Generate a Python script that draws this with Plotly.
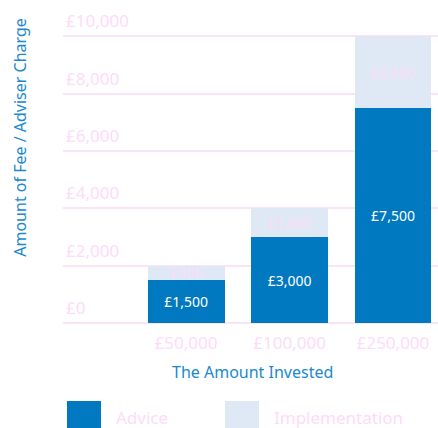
import plotly.graph_objects as go

categories = ["£50,000", "£100,000", "£250,000"]
advice = [1500, 3000, 7500]
implementation = [500, 1000, 2500]
y_ticks = [0, 2000, 4000, 6000, 8000, 10000]
y_tick_labels = ["£0", "£2,000", "£4,000", "£6,000", "£8,000", "£10,000"]

BLUE = "#0079c1"
LIGHT = "#dfe8f5"
PINK = "#fcdcf8"
GRID = "#fbe3f8"
TITLE = "#2088cf"
FONT = "Noto Sans"

def money(v):
    return "£{:,}".format(v)

fig = go.Figure()
fig.add_trace(go.Bar(
    x=categories, y=advice, name="Advice", marker=dict(color=BLUE, line=dict(width=0)),
    text=[money(v) for v in advice], textposition="inside", insidetextanchor="middle",
    constraintext="none", cliponaxis=False,
    textfont=dict(color="white", size=14, family=FONT), showlegend=False,
))
fig.add_trace(go.Bar(
    x=categories, y=implementation, name="Implementation", marker=dict(color=LIGHT, line=dict(width=0)),
    text=[money(v) for v in implementation], textposition="inside", insidetextanchor="middle",
    constraintext="none", cliponaxis=False,
    textfont=dict(color=PINK, size=14, family=FONT), showlegend=False,
))

W, H = 438, 428
Y_MAX = 11200
ZERO_PX, TOP_PX = 323, 36           # pixel rows of 0 and 10,000
scale = (ZERO_PX - TOP_PX) / 10000
L, R = 63, 0
B = H - ZERO_PX
T = ZERO_PX - Y_MAX * scale
pw, ph = W - L - R, H - T - B

def px(x):
    return (x - L) / pw

def py(y):
    return (H - B - y) / ph

fig.update_layout(
    width=W, height=H, barmode="stack", bargap=0.256,
    margin=dict(l=L, r=R, t=T, b=B, pad=0),
    paper_bgcolor="white", plot_bgcolor="white",
    font=dict(family=FONT, color=PINK, size=16),
    uniformtext=dict(mode="show", minsize=14),
    xaxis=dict(type="category", range=[-1.19, 2.435], showgrid=False, showline=False,
               ticks="", ticklabelstandoff=8,
               tickfont=dict(size=17, color=PINK, family=FONT)),
    yaxis=dict(range=[0, Y_MAX], tickvals=y_ticks, ticktext=y_tick_labels,
               ticklabelposition="inside top", ticklabelshift=-3,
               gridcolor=GRID, gridwidth=1.5,
               zeroline=True, zerolinecolor=GRID, zerolinewidth=1.5,
               showline=False, ticks="", tickfont=dict(size=17, color=PINK, family=FONT)),
    shapes=[
        dict(type="rect", xref="paper", yref="paper", x0=px(67), x1=px(101), y0=py(435), y1=py(401),
             fillcolor=BLUE, line=dict(width=0)),
        dict(type="rect", xref="paper", yref="paper", x0=px(225), x1=px(259), y0=py(435), y1=py(401),
             fillcolor=LIGHT, line=dict(width=0)),
    ],
    annotations=[
        dict(text="Amount of Fee / Adviser Charge", textangle=-90, xref="paper", yref="paper",
             x=px(20), y=py(137.5), xanchor="center", yanchor="middle", showarrow=False,
             font=dict(size=16, color=TITLE, family=FONT)),
        dict(text="The Amount Invested", xref="paper", yref="paper",
             x=px(252), y=py(372), xanchor="center", yanchor="middle", showarrow=False,
             font=dict(size=16, color=TITLE, family=FONT)),
        dict(text="Advice", xref="paper", yref="paper", x=px(114), y=py(418),
             xanchor="left", yanchor="middle", showarrow=False,
             font=dict(size=17, color=PINK, family=FONT)),
        dict(text="Implementation", xref="paper", yref="paper", x=px(272), y=py(418),
             xanchor="left", yanchor="middle", showarrow=False,
             font=dict(size=17, color=PINK, family=FONT)),
    ],
)

fig.write_html("out.html", config={"displayModeBar": False},
               post_script="document.body.style.margin='0';")
